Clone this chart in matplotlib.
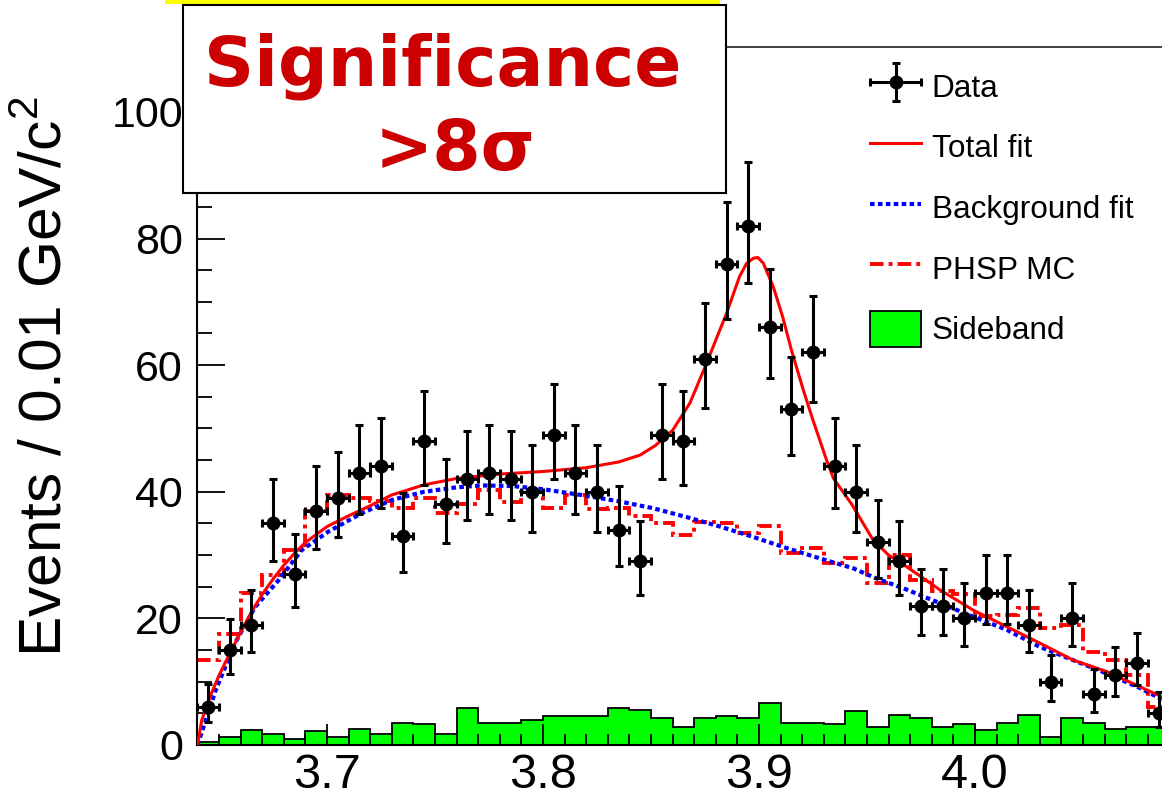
#%% Imports
import numpy as np
import matplotlib
matplotlib.use('Agg')
import matplotlib.pyplot as plt
from matplotlib.patches import Rectangle
from matplotlib.lines import Line2D
from matplotlib.legend_handler import HandlerErrorbar
from matplotlib.ticker import MultipleLocator

plt.rcParams['font.family'] = ['Liberation Sans', 'DejaVu Sans']
plt.rcParams['mathtext.fontset'] = 'custom'
plt.rcParams['mathtext.rm'] = 'Liberation Sans'


#%% Data
bin_edges = np.linspace(3.64, 4.09, 46)
bin_centers = 0.5 * (bin_edges[:-1] + bin_edges[1:])

data_counts = [6, 15, 19, 35, 27, 37, 39, 43, 44, 33, 48, 38, 42, 43, 42, 40,
               49, 43, 40, 34, 29, 49, 48, 61, 76, 82, 66, 53, 62, 44, 40, 32,
               29, 22, 22, 20, 24, 24, 19, 10, 20, 8, 11, 13, 5]

phsp_mc = [13.4, 17.6, 24, 26.8, 30.8, 37, 39.5, 39, 38.5, 37.5, 39, 36.6,
           38, 40.3, 38.4, 40, 37.5, 39.5, 37.3, 37.4, 36.2, 35.1, 33.2, 35.3,
           35, 33.5, 34.6, 30.3, 31.1, 28.7, 29.5, 25.6, 30, 26, 24.4, 23.8,
           20.3, 20.5, 21.6, 18.5, 19, 14.7, 13.5, 11, 6]

sideband = [0.5, 1.2, 2.3, 1.8, 0.9, 2.2, 1.2, 2.6, 1.8, 3.5, 3.3, 1.8, 5.9,
            3.4, 3.4, 3.95, 4.6, 4.6, 4.6, 5.9, 5.6, 4.3, 2.9, 4.2, 4.6, 4.3,
            6.6, 3.5, 3.5, 3.3, 5.4, 2.9, 4.8, 4.3, 2.9, 3.3, 2.4, 3.5, 4.8,
            1.2, 4.2, 3.5, 2.6, 2.9, 2.9]

total_fit_x = [3.640, 3.642, 3.6458, 3.650, 3.655, 3.660, 3.665, 3.670, 3.675,
               3.680, 3.685, 3.690, 3.700, 3.710, 3.720, 3.730, 3.745, 3.760,
               3.780, 3.800, 3.820, 3.835, 3.845, 3.852, 3.860, 3.868, 3.875,
               3.885, 3.891, 3.8943, 3.8975, 3.8995, 3.902, 3.9066, 3.911,
               3.915, 3.9205, 3.925, 3.9313, 3.9345, 3.943, 3.9528, 3.960,
               3.9682, 3.9838, 3.9992, 4.0147, 4.030, 4.0455, 4.061, 4.0764,
               4.0866]
total_fit_y = [0, 3.9, 7.6, 11, 14.5, 17.8, 21, 23.8, 26.2,
               28.4, 30.3, 32, 34.5, 36.2, 37.8, 39.5, 41.1, 42.1,
               42.8, 43.2, 43.8, 44.7, 45.8, 47.3, 49.7, 54, 59.7,
               68.2, 74, 76.1, 76.9, 77.0, 76.1, 72.4, 67.6,
               62.4, 56.1, 51.3, 45, 42.1, 38, 32.4, 30,
               28.2, 24.5, 21.3, 18.7, 16.1, 13.4, 11.6, 9.2,
               7.6]

bkg_fit_x = [3.640, 3.6429, 3.6485, 3.6574, 3.6667, 3.6775, 3.6883, 3.7006,
             3.716, 3.730, 3.745, 3.760, 3.772, 3.786, 3.800, 3.8175, 3.835,
             3.851, 3.8665, 3.882, 3.897, 3.9128, 3.928, 3.9437, 3.953, 3.968,
             3.9838, 3.999, 4.0147, 4.030, 4.0455, 4.061, 4.0764, 4.0866]
bkg_fit_y = [0, 2.9, 8.7, 16.1, 21.8, 26, 30.8, 33.7,
             36.6, 38.7, 40, 40.7, 41, 40.9, 40.4, 39.5, 38.5,
             37.4, 36, 34.5, 32.9, 31.1, 29.5, 27.9, 26.5, 24.6,
             22.4, 20.3, 18.2, 15.5, 13.4, 11.3, 9, 7.2]


#%% Poisson (Garwood) error bars from the counts
def poisson_errors(counts):
    n = np.asarray(counts, dtype=float)

    def chi2_quantile(z, k):
        return k * (1 - 2 / (9 * k) + z * np.sqrt(2 / (9 * k))) ** 3

    low = 0.5 * chi2_quantile(-1.0, 2 * n)
    high = 0.5 * chi2_quantile(1.0, 2 * n + 2)
    return n - low, high - n


#%% Plot
W, H = 1162, 801
fig = plt.figure(figsize=(W / 100, H / 100), dpi=100)
ax = fig.add_axes([197 / W, 1 - 745 / H, (W - 197) / W, (745 - 46.7) / H])

phsp_style = (0, (3.5, 1.3, 1, 1.3))
ax.stairs(sideband, bin_edges, fill=True, facecolor='#00ff00',
          edgecolor='black', linewidth=1.3, zorder=1)
ax.stairs(phsp_mc, bin_edges, baseline=None, color='red', linewidth=2.8,
          linestyle=phsp_style, zorder=2)
bkg_line, = ax.plot(bkg_fit_x, bkg_fit_y, color='#0000ff', linewidth=3.0,
                    linestyle=(0, (1.1, 0.8)), dash_capstyle='butt', zorder=3)
fit_line, = ax.plot(total_fit_x, total_fit_y, color='red', linewidth=2.2,
                    solid_joinstyle='round', zorder=4)

err_lo, err_hi = poisson_errors(data_counts)
data_handle = ax.errorbar(bin_centers, data_counts, yerr=[err_lo, err_hi],
                          xerr=0.005, fmt='o', color='black', markersize=9,
                          elinewidth=2.2, capsize=2.8, capthick=2.2, zorder=5)

ax.set_xlim(3.6398, 4.0866)
ax.set_ylim(0, 110.3)

ax.xaxis.set_major_locator(MultipleLocator(0.1))
ax.xaxis.set_minor_locator(MultipleLocator(0.01))
ax.yaxis.set_major_locator(MultipleLocator(20))
ax.yaxis.set_minor_locator(MultipleLocator(5))
ax.set_xticks([3.7, 3.8, 3.9, 4.0])
ax.set_xticklabels(['3.7', '3.8', '3.9', '4.0'])

ax.tick_params(axis='x', which='major', direction='in', length=15, width=1.3,
               labelsize=35, pad=6)
ax.tick_params(axis='x', which='minor', direction='in', length=8, width=1.3)
ax.tick_params(axis='y', which='major', direction='in', length=20, width=1.3,
               labelsize=31, pad=10)
ax.tick_params(axis='y', which='minor', direction='in', length=11, width=1.3)

ax.spines['right'].set_visible(False)
for side in ['left', 'bottom']:
    ax.spines[side].set_linewidth(1.5)
ax.spines['top'].set_linewidth(1.3)
ax.spines['top'].set_color('#333333')

fig.text(45 / W, 1 - 377 / H, r'Events / 0.01 GeV/c$^{\mathregular{2}}$',
         rotation=90, ha='center', va='center', fontsize=43.5)

# legend
phsp_handle = Line2D([], [], color='red', linewidth=2.8, linestyle=phsp_style)
side_handle = Rectangle((0, 0), 1, 1, facecolor='#00ff00', edgecolor='black',
                        linewidth=1.3)
ax.legend([data_handle, fit_line, bkg_line, phsp_handle, side_handle],
          ['Data', 'Total fit', 'Background fit', 'PHSP MC', 'Sideband'],
          handler_map={type(data_handle): HandlerErrorbar(xerr_size=0.8, yerr_size=0.6)},
          loc='upper left', bbox_to_anchor=(870 / W, 1 - 68 / H),
          bbox_transform=fig.transFigure, frameon=False, fontsize=22.7,
          borderpad=0, borderaxespad=0, handlelength=1.62, handleheight=1.4,
          handletextpad=0.34, labelspacing=0.77)

# yellow strip and significance box
fig.add_artist(Rectangle((165 / W, 1 - 3.5 / H), (720 - 165) / W, 3.5 / H,
                         transform=fig.transFigure, facecolor='#ffff00',
                         edgecolor='none', zorder=5))
fig.add_artist(Rectangle((183 / W, 1 - 193 / H), (726 - 183) / W, (193 - 5) / H,
                         transform=fig.transFigure, facecolor='white',
                         edgecolor='black', linewidth=1.5, zorder=6))
fig.text(443 / W, 1 - 86 / H, 'Significance', ha='center', va='baseline',
         fontsize=50, fontweight='bold', color='#cc0000',
         family='DejaVu Sans', zorder=7)
fig.text(455 / W, 1 - 170 / H, '>8\u03c3', ha='center', va='baseline',
         fontsize=50, fontweight='bold', color='#cc0000',
         family='DejaVu Sans', zorder=7)

fig.savefig('out.png', dpi=100)
